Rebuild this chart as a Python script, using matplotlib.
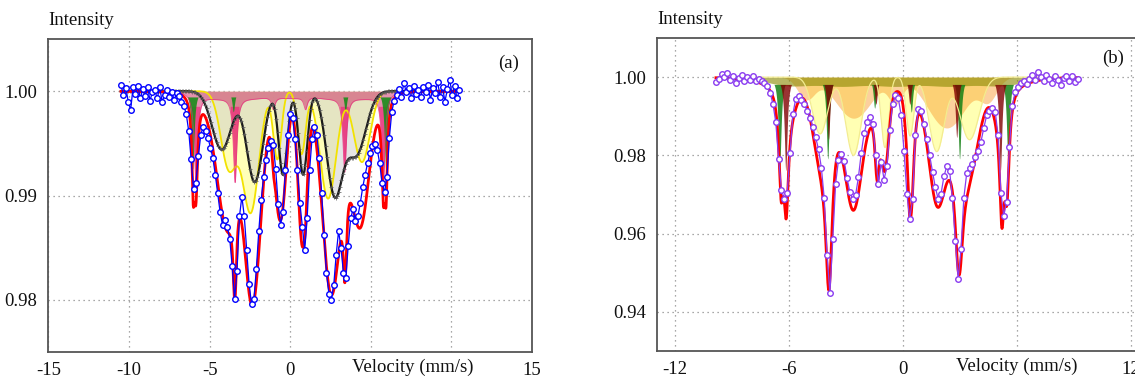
import numpy as np
import matplotlib
matplotlib.use('Agg')
import matplotlib.pyplot as plt

plt.rcParams['font.family'] = ['Liberation Serif', 'DejaVu Serif']

# ---------------- panel (a) ----------------
# measured points, channels from -10.5 to 10.5 mm/s (step 0.15)
vel_a = np.arange(141) * 0.15 - 10.5
obs_a = [1.0006, 0.9996, 1.0003, 0.9990, 0.9982, 1.0004, 0.9997, 1.0005, 0.9993, 1.0002,
         0.9995, 1.0004, 0.9991, 0.9999, 1.0001, 0.9993, 1.0004, 0.9990, 0.9996, 1.0001,
         0.9994, 0.9999, 0.9992, 0.9998, 0.9995, 0.9990, 0.9986, 0.9978, 0.9962, 0.9935,
         0.9906, 0.9912, 0.9938, 0.9958, 0.9966, 0.9962, 0.9955, 0.9946, 0.9936, 0.9920,
         0.9902, 0.9884, 0.9872, 0.9877, 0.9870, 0.9858, 0.9832, 0.9801, 0.9828, 0.9880,
         0.9899, 0.9880, 0.9848, 0.9815, 0.9796, 0.9801, 0.9830, 0.9866, 0.9896, 0.9918,
         0.9934, 0.9946, 0.9952, 0.9948, 0.9925, 0.9892, 0.9872, 0.9884, 0.9924, 0.9958,
         0.9978, 0.9974, 0.9954, 0.9924, 0.9893, 0.9870, 0.9848, 0.9878, 0.9924, 0.9954,
         0.9966, 0.9958, 0.9936, 0.9902, 0.9862, 0.9826, 0.9806, 0.9800, 0.9814, 0.9843,
         0.9866, 0.9850, 0.9826, 0.9821, 0.9852, 0.9878, 0.9887, 0.9876, 0.9880, 0.9893,
         0.9908, 0.9920, 0.9931, 0.9941, 0.9947, 0.9949, 0.9944, 0.9931, 0.9912, 0.9903,
         0.9918, 0.9955, 0.9980, 0.9991, 0.9996, 1.0002, 0.9994, 1.0008, 0.9999, 1.0003,
         0.9993, 1.0005, 0.9997, 1.0001, 0.9994, 1.0004, 0.9999, 1.0006, 0.9992, 1.0003,
         0.9998, 1.0009, 0.9994, 1.0004, 0.9990, 1.0002, 1.0011, 0.9996, 1.0005, 0.9993,
         1.0001]

# subspectra (a): line position, depth, width (mm/s); the fit is their sum
grey_pos = [-4.25, -2.2, -0.45, 0.8, 2.75, 4.1]
grey_depth = [0.0056, 0.0087, 0.0080, 0.0080, 0.0097, 0.0060]
grey_sig = [0.6, 0.5, 0.27, 0.27, 0.5, 0.6]

yel_pos = [-3.8, -2.45, -0.8, 0.7, 2.35, 4.45]
yel_depth = [0.0074, 0.0115, 0.0065, 0.0060, 0.0103, 0.0068]
yel_sig = [0.5, 0.5, 0.25, 0.25, 0.5, 0.5]

pink_pos = [-5.85, -3.42, -1.05, 0.95, 3.38, 5.78]
pink_depth = [0.0085, 0.0082, 0.0012, 0.0012, 0.0072, 0.0085]
pink_hw = 0.13
pink_bg_pos = [-4.6, -2.3, 0.0, 2.3, 4.6]
pink_bg_depth = [0.0006, 0.0006, 0.0006, 0.0006, 0.0006]
pink_bg_sig = 0.9

green_pos = [-6.02, -3.5, -1.05, 0.95, 3.45, 5.95]
green_depth = [0.0075, 0.0020, 0.0006, 0.0006, 0.0020, 0.0075]
green_hw = 0.1

# ---------------- panel (b) ----------------
vel_b = np.arange(128) * 0.15 - 9.85
obs_b = [0.9988, 0.9995, 1.0008, 0.9999, 1.0010, 0.9992, 1.0003, 0.9985, 0.9997, 1.0006,
         0.9990, 1.0000, 0.9993, 1.0004, 0.9989, 0.9996, 0.9991, 0.9984, 0.9976, 0.9960,
         0.9932, 0.9885, 0.9790, 0.9712, 0.9688, 0.9705, 0.9805, 0.9905, 0.9945, 0.9952,
         0.9942, 0.9930, 0.9914, 0.9896, 0.9872, 0.9846, 0.9815, 0.9768, 0.9690, 0.9545,
         0.9448, 0.9585, 0.9728, 0.9788, 0.9803, 0.9786, 0.9742, 0.9706, 0.9688, 0.9698,
         0.9744, 0.9806, 0.9856, 0.9886, 0.9899, 0.9880, 0.9802, 0.9728, 0.9784, 0.9738,
         0.9772, 0.9866, 0.9932, 0.9953, 0.9946, 0.9902, 0.9812, 0.9702, 0.9638, 0.9688,
         0.9852, 0.9919, 0.9913, 0.9880, 0.9842, 0.9800, 0.9758, 0.9718, 0.9688, 0.9702,
         0.9746, 0.9772, 0.9760, 0.9690, 0.9582, 0.9484, 0.9560, 0.9692, 0.9754, 0.9768,
         0.9778, 0.9796, 0.9812, 0.9835, 0.9870, 0.9902, 0.9914, 0.9922, 0.9912, 0.9852,
         0.9705, 0.9645, 0.9682, 0.9822, 0.9926, 0.9962, 0.9975, 0.9984, 0.9990, 0.9982,
         0.9995, 1.0005, 0.9993, 1.0012, 1.0000, 0.9990, 1.0006, 0.9996, 0.9985, 1.0002,
         0.9993, 0.9980, 0.9998, 1.0004, 0.9991, 1.0003, 0.9988, 0.9995]

# total fit (b): sharp lines + broad lines
fitb_l_pos = [-6.42, -3.92, -1.42, 0.47, 3.0, 5.47, -6.15, -3.88, -1.33, 0.35, 2.88, 5.2]
fitb_l_depth = [0.023, 0.021, 0.008, 0.009, 0.016, 0.023,
                0.026, 0.021, 0.012, 0.013, 0.016, 0.028]
fitb_l_hw = [0.15, 0.22, 0.12, 0.12, 0.22, 0.15, 0.15, 0.22, 0.12, 0.12, 0.22, 0.15]
fitb_g_pos = [-4.37, -2.61, -0.95, 0.37, 1.77, 3.5, -5.9, -2.55, 2.3, 5.0,
              -6.0, -3.2, -0.4, 2.4, 5.2]
fitb_g_depth = [0.0145, 0.020, 0.018, 0.015, 0.019, 0.016, 0.004, 0.011, 0.013, 0.004,
                0.0014, 0.0014, 0.0014, 0.0014, 0.0014]
fitb_g_sig = [0.4, 0.4, 0.2, 0.2, 0.4, 0.5, 0.3, 0.9, 0.9, 0.3, 1.2, 1.2, 1.2, 1.2, 1.2]

# subspectra shown in (b)
byel_pos = [-4.37, -2.61, -0.95, 0.37, 1.77, 3.5]
byel_depth = [0.0145, 0.020, 0.018, 0.015, 0.019, 0.016]
byel_sig = [0.4, 0.4, 0.2, 0.2, 0.4, 0.5]

orange_pos = [-5.1, -2.6, -0.4, 2.3, 4.5]
orange_depth = [0.0055, 0.0105, 0.006, 0.013, 0.0055]
orange_sig = [0.45, 0.95, 0.35, 1.0, 0.45]

band_pos = [-6.0, -3.2, -0.4, 2.4, 5.2]
band_depth = [0.0021, 0.0021, 0.0021, 0.0021, 0.0021]
band_sig = 1.2

bgreen_pos = [-6.47, -3.94, -1.47, 0.46, 3.0, 5.55]
bgreen_depth = [0.023, 0.021, 0.008, 0.009, 0.021, 0.022]
bgreen_hw = 0.09

maroon_pos = [-6.15, -3.9, -1.4, 0.38, 2.85, 5.15]
maroon_depth = [0.024, 0.016, 0.007, 0.007, 0.0155, 0.024]
maroon_hw = 0.09


def lorentz(v, pos, depth, hw):
    d = v[:, None] - np.asarray(pos)[None, :]
    hw = np.asarray(hw, dtype=float)
    return np.sum(np.asarray(depth) * hw**2 / (d**2 + hw**2), axis=1)


def gauss(v, pos, depth, sig):
    d = v[:, None] - np.asarray(pos)[None, :]
    sig = np.asarray(sig, dtype=float)
    return np.sum(np.asarray(depth) * np.exp(-d**2 / (2 * sig**2)), axis=1)


def style_axes(ax, xlim, ylim, xt, xtl, yt, ytl):
    ax.set_xlim(*xlim)
    ax.set_ylim(*ylim)
    ax.set_xticks(xt)
    ax.set_xticklabels(xtl)
    ax.set_yticks(yt)
    ax.set_yticklabels(ytl)
    ax.tick_params(length=0, labelsize=13.5, colors='#111111')
    ax.tick_params(axis='x', pad=7)
    ax.tick_params(axis='y', pad=8)
    ax.grid(True, color='#8c8c8c', lw=0.9, ls=(0, (1, 3)))
    ax.set_axisbelow(True)
    for s in ax.spines.values():
        s.set_color('#555555')
        s.set_linewidth(1.3)


fig = plt.figure(figsize=(11.35, 3.79), dpi=100)

# ---- (a)
ax = fig.add_axes([0.0427, 0.0712, 0.426, 0.8259])
va = np.linspace(-10.5, 10.5, 2101)
grey_a = gauss(va, grey_pos, grey_depth, grey_sig)
yel_a = gauss(va, yel_pos, yel_depth, yel_sig)
pink_sharp = lorentz(va, pink_pos, pink_depth, [pink_hw] * 6)
pink_a = pink_sharp + gauss(va, pink_bg_pos, pink_bg_depth, [pink_bg_sig] * 5)
green_a = lorentz(va, green_pos, green_depth, [green_hw] * 6)
fit_a = 1 - (grey_a + yel_a + pink_a + green_a)

ax.fill_between(va, 1 - yel_a, 1, color=(1.0, 1.0, 0.72), lw=0, zorder=1)
ax.fill_between(va, 1 - grey_a, 1, color=(0.80, 0.80, 0.80), alpha=0.5, lw=0, zorder=2)
ax.fill_between(va, 1 - pink_a, 1, color=(0.80, 0.15, 0.38), alpha=0.5, lw=0, zorder=3)
ax.fill_between(va, 1 - pink_a, 1 - 0.0015, where=pink_sharp > 0.0015, interpolate=True,
                color=(0.95, 0.1, 0.45), alpha=0.6, lw=0, zorder=3)
ax.fill_between(va, 1 - green_a, 1 - 0.0006, where=green_a > 0.0006, interpolate=True,
                color=(0.1, 0.55, 0.1), alpha=0.9, lw=0, zorder=4)
ax.plot(va, 1 - yel_a, color='#f2e200', lw=1.3, zorder=5)
ax.plot(va, 1 - pink_a, color='#e8247a', lw=0.6, alpha=0.7, zorder=5)
ax.plot(va, 1 - grey_a, color='#1a1a1a', lw=1.6, zorder=6)
ax.plot(va, 1 - grey_a, ls='none', color='#555555', marker='+', ms=2.2, mew=0.5,
        markevery=9, zorder=6)
ax.plot(va, fit_a, color='#ff0000', lw=2.0, zorder=7)
ax.plot(vel_a, obs_a, color='#0000ff', lw=0.9, marker='o', ms=4.0, mfc='white',
        mec='#0000ff', mew=1.0, zorder=8)

style_axes(ax, (-15, 15), (0.975, 1.005),
           [-15, -10, -5, 0, 5, 10, 15], ['-15', '-10', '-5', '0', '', '', '15'],
           [0.98, 0.99, 1.00], ['0.98', '0.99', '1.00'])
ax.text(7.6, -0.048, 'Velocity (mm/s)', transform=ax.get_xaxis_transform(),
        ha='center', va='center', fontsize=13.5, color='#111111')
ax.text(0.0, 1.058, 'Intensity', transform=ax.transAxes, ha='left', va='center',
        fontsize=13.5, color='#111111')
ax.text(0.952, 0.922, '(a)', transform=ax.transAxes, ha='center', va='center',
        fontsize=13.5, color='#111111')

# ---- (b)
bx = fig.add_axes([0.5789, 0.0739, 0.4335, 0.8259])
vb = np.linspace(-9.85, 9.2, 1906)
fit_b = 1 - (lorentz(vb, fitb_l_pos, fitb_l_depth, fitb_l_hw) +
             gauss(vb, fitb_g_pos, fitb_g_depth, fitb_g_sig))
yel_b = gauss(vb, byel_pos, byel_depth, byel_sig)
orange_b = gauss(vb, orange_pos, orange_depth, orange_sig)
band_b = gauss(vb, band_pos, band_depth, [band_sig] * 5)
green_b = lorentz(vb, bgreen_pos, bgreen_depth, [bgreen_hw] * 6)
maroon_b = lorentz(vb, maroon_pos, maroon_depth, [maroon_hw] * 6)

bx.fill_between(vb, 1 - yel_b, 1, color=(1.0, 1.0, 0.70), lw=0, zorder=1)
bx.fill_between(vb, 1 - orange_b, 1, color=(0.98, 0.62, 0.2), alpha=0.48, lw=0, zorder=2)
bx.fill_between(vb, 1 - band_b, 1, color=(0.55, 0.55, 0.02), alpha=0.62, lw=0, zorder=3)
bx.fill_between(vb, 1 - green_b, 1 - 0.002, where=green_b > 0.002, interpolate=True,
                color=(0.08, 0.5, 0.08), alpha=0.85, lw=0, zorder=4)
bx.fill_between(vb, 1 - maroon_b, 1 - 0.002, where=maroon_b > 0.002, interpolate=True,
                color=(0.5, 0.0, 0.0), alpha=0.8, lw=0, zorder=4)
bx.plot(vb, 1 - yel_b, color='#f3ec90', lw=0.9, zorder=5)
bx.plot(vb, fit_b, color='#ff0000', lw=2.0, zorder=7)
bx.plot(vel_b, obs_b, color='#8a3cf0', lw=0.9, marker='o', ms=4.0, mfc='white',
        mec='#8a3cf0', mew=1.0, zorder=8)

style_axes(bx, (-12.95, 12.95), (0.93, 1.01),
           [-12, -6, 0, 6, 12], ['-12', '-6', '0', '', '12'],
           [0.94, 0.96, 0.98, 1.00], ['0.94', '0.96', '0.98', '1.00'])
bx.text(6.0, -0.048, 'Velocity (mm/s)', transform=bx.get_xaxis_transform(),
        ha='center', va='center', fontsize=13.5, color='#111111')
bx.text(0.0, 1.06, 'Intensity', transform=bx.transAxes, ha='left', va='center',
        fontsize=13.5, color='#111111')
bx.text(0.927, 0.935, '(b)', transform=bx.transAxes, ha='center', va='center',
        fontsize=13.5, color='#111111')

fig.savefig('out.png', dpi=100)
